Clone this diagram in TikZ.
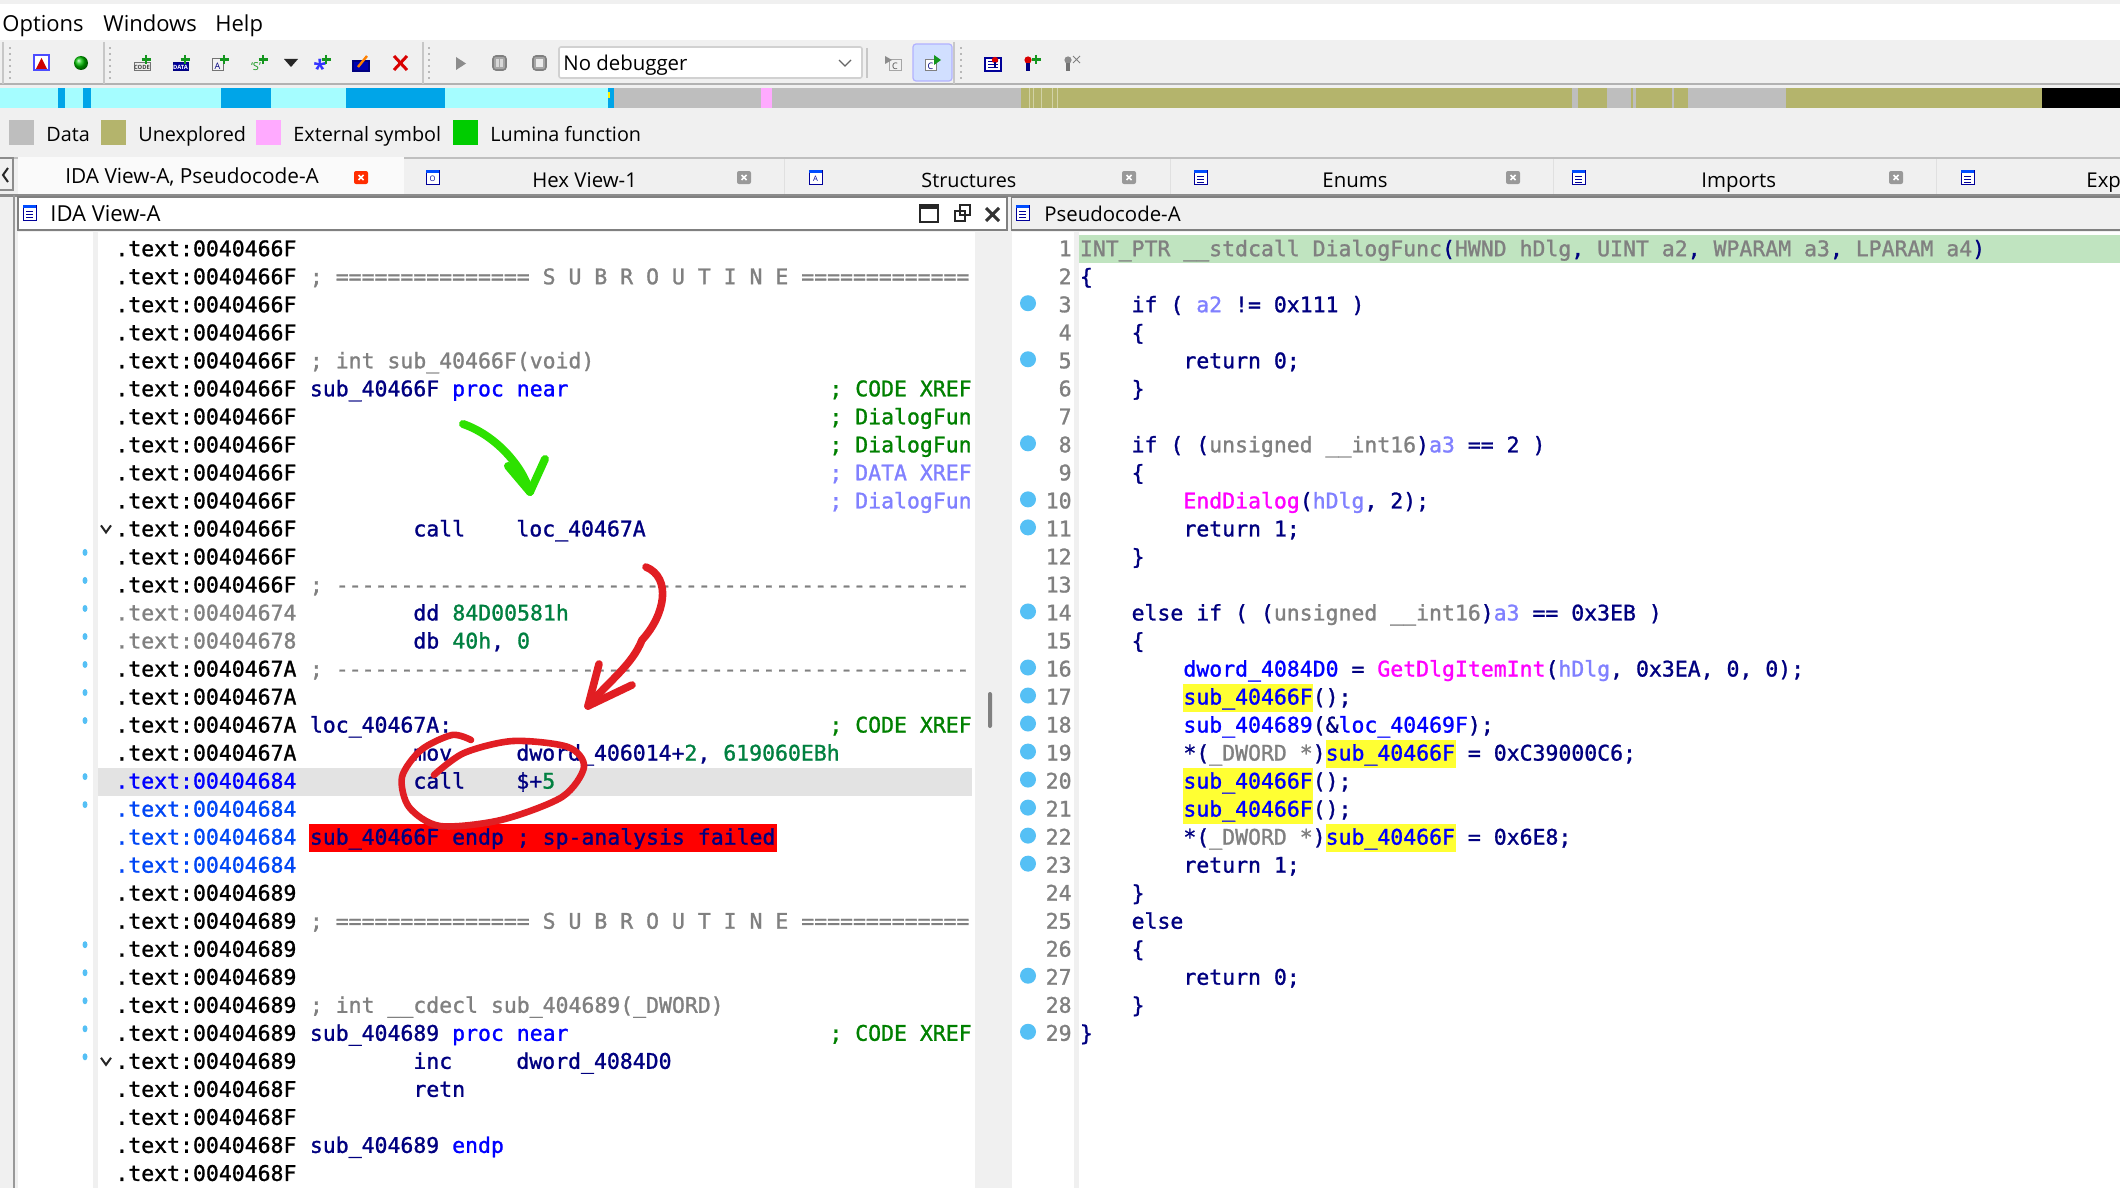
\documentclass[tikz,border=0pt]{standalone}
\usepackage{fontspec}
\usepackage{tikz}
\setmainfont{Open Sans}
\newfontfamily\codefont{DejaVu Sans Mono}[FakeBold=1.2]
\definecolor{idanavy}{RGB}{0, 0, 128}
\definecolor{idablue}{RGB}{0, 0, 255}
\definecolor{idagray}{RGB}{128, 128, 128}
\definecolor{idagreen}{RGB}{0, 128, 64}
\definecolor{idapink}{RGB}{255, 0, 255}
\definecolor{xrefgreen}{RGB}{0, 128, 0}
\definecolor{idalilac}{RGB}{128, 128, 255}
\definecolor{addrblue}{RGB}{0, 70, 245}
\definecolor{panel}{RGB}{240, 240, 240}
\definecolor{codecyan}{RGB}{165, 253, 255}
\definecolor{codeblue}{RGB}{0, 165, 232}
\definecolor{navgray}{RGB}{190, 190, 190}
\definecolor{navolive}{RGB}{180, 180, 108}
\definecolor{navpink}{RGB}{255, 170, 255}
\definecolor{dotblue}{RGB}{85, 192, 245}
\definecolor{plusgreen}{RGB}{20, 150, 30}
\definecolor{headgreen}{RGB}{192, 228, 192}
\definecolor{markyellow}{RGB}{255, 255, 51}
\definecolor{penred}{RGB}{225, 30, 35}
\definecolor{pengreen}{RGB}{45, 225, 0}
\tikzset{
  uilabel/.style={anchor=base west, inner sep=0pt, font=\fontsize{10.2}{13}\selectfont},
  menulabel/.style={anchor=base west, inner sep=0pt, font=\fontsize{11}{13}\selectfont},
  legendlabel/.style={anchor=base west, inner sep=0pt, font=\fontsize{9.9}{13}\selectfont},
  codetext/.style={anchor=base west, inner sep=0pt, text=idanavy, font=\codefont\fontsize{10.74}{12}\selectfont},
  numtext/.style={anchor=base east, inner sep=0pt, text=idagray, font=\codefont\fontsize{10.74}{12}\selectfont},
  icontext/.style={inner sep=0pt, font=\fontsize{2.9}{3}\selectfont\bfseries},
  penred/.style={draw=penred, line width=3.8pt, line cap=round, line join=round},
  pengreen/.style={draw=pengreen, line width=4pt, line cap=round, line join=round},
  divider/.style={draw=black!22, line width=1pt},
  grip/.style={draw=black!28, line width=1pt, dash pattern=on 1pt off 2pt},
  chevron/.style={draw=black!85, line width=1pt},
}
\begin{document}
\begin{tikzpicture}[x=0.5pt, y=-0.5pt, declare function={rowy(\n)=256.2+28.02*\n;}]
  \useasboundingbox (0,0) rectangle (2120,1188);
  \fill[panel] (0,0) rectangle (2120,1188);
  \fill[white] (0,4) rectangle (2120,40);
  \node[menulabel] (menuoptions) at (2,32) {Options};
  \node[menulabel] (menuwindows) at (103,32) {Windows};
  \node[menulabel] (menuhelp) at (215,32) {Help};
  % toolbar
  \draw[black!30, line width=1pt] (0,84.5) -- (2120,84.5);
  \foreach \ix in {3,104,423,954} \draw[divider] (\ix,42) -- (\ix,84);
  \foreach \ix in {10,110,429,961} \draw[grip] (\ix,47) -- (\ix,80);
  \filldraw[draw=blue!70, fill=white, line width=0.6pt] (34,55) rectangle (49,70);
  \fill[red!80!black] (41.5,58) -- (47,69) -- (36,69) -- cycle;
  \shade[ball color=green!75!black] (81,63) circle (7);
  \filldraw[draw=black!55, fill=black!8, line width=0.5pt] (134,63) rectangle (150,71);
  \node[icontext, text=black!75] (iconcode) at (142,67) {CODE};
  \filldraw[draw=blue!50!black, fill=blue!60!black, line width=0.5pt] (173,63) rectangle (188,71);
  \node[icontext, text=white] (icondata) at (180.5,67) {DATA};
  \filldraw[draw=black!55, fill=black!5, line width=0.5pt] (212,59) rectangle (223,71);
  \node[icontext, text=idanavy, font=\fontsize{4.5}{5}\selectfont] (iconascii) at (217.5,66) {A};
  \node[icontext, text=plusgreen, font=\fontsize{5.5}{6}\selectfont] (iconstr) at (256,67) {`S'};
  \fill[black!85] (284,59) -- (298,59) -- (291,67) -- cycle;
  \node[icontext, text=blue!80, font=\bfseries\fontsize{12}{12}\selectfont] (iconstar) at (320,68) {*};
  \foreach \ix in {146,185,224,263,326,1036} {
    \draw[plusgreen, line width=1.3pt] (\ix-4.5,59.5) -- (\ix+4.5,59.5) (\ix,55) -- (\ix,64);
  }
  \filldraw[draw=blue!50!black, fill=blue!70!black, line width=0.6pt] (353,61) rectangle (369,71);
  \draw[orange, line width=1.2pt] (358,67) -- (367,56);
  \draw[red!85!black, line width=1.5pt] (394,56) -- (407,70) (407,56) -- (394,70);
  \fill[black!45] (456,57) -- (466,63.5) -- (456,70) -- cycle;
  \filldraw[draw=black!50, fill=black!35, rounded corners=1.5pt, line width=0.8pt] (493,56) rectangle (506,70);
  \draw[white!85!black, line width=1.2pt] (497.5,59) -- (497.5,67) (501.5,59) -- (501.5,67);
  \filldraw[draw=black!50, fill=black!35, rounded corners=1.5pt, line width=0.8pt] (533,56) rectangle (546,70);
  \fill[black!8] (536,59) rectangle (543,67);
  \filldraw[draw=black!18, fill=white, rounded corners=1pt, line width=0.8pt] (559,47) rectangle (862,78);
  \node[uilabel] (comboname) at (563,71) {No debugger};
  \draw[black!60, line width=0.6pt] (839,60) -- (845,66) -- (851,60);
  \draw[divider] (867,48) -- (867,78);
  \filldraw[draw=black!35, fill=black!6, line width=0.5pt] (889,60) rectangle (901,71);
  \node[icontext, text=black!70, font=\fontsize{4.5}{5}\selectfont] (icongrayc) at (895,66) {C};
  \fill[black!45] (885,56) -- (892,60) -- (885,64) -- cycle;
  \filldraw[draw=blue!30, fill=blue!70!cyan!18, rounded corners=1.5pt, line width=0.6pt] (913,44) rectangle (952,81);
  \filldraw[draw=black!50, fill=white, line width=0.5pt] (925,60) rectangle (936,71);
  \node[icontext, text=idanavy, font=\fontsize{4.5}{5}\selectfont] (iconbluec) at (930.5,66) {C};
  \fill[plusgreen] (934,55) -- (941,60) -- (934,65) -- cycle;
  \filldraw[draw=blue!60!black, fill=white, line width=0.6pt] (985,58) rectangle (1001,71);
  \draw[blue!60!black, line width=0.5pt] (988,62) -- (998,62) (988,65) -- (998,65) (988,68) -- (998,68);
  \fill[red!85!black] (995,60) circle (3.2);
  \draw[blue!50!black, line width=1.2pt] (995,62) -- (995,68);
  \fill[red!85!black] (1028,60) circle (3.6);
  \draw[idanavy, line width=2pt] (1028,63) -- (1028,71);
  \fill[black!45] (1068,60) circle (3.6);
  \draw[black!55, line width=2pt] (1068,63) -- (1068,71);
  \draw[black!50, line width=0.5pt] (1073,56) -- (1080,63) (1080,56) -- (1073,63);
  % navigation bar
  \fill[codecyan] (0,88) rectangle (612,108);
  \foreach \xa/\xb in {58/65, 83/91, 221/271, 346/445, 608/614} \fill[codeblue] (\xa,88) rectangle (\xb,108);
  \fill[yellow] (608,92) rectangle (610,98);
  \fill[navgray] (614,88) rectangle (1021,108);
  \fill[navpink] (761,88) rectangle (772,108);
  \fill[navolive] (1021,88) rectangle (2042,108);
  \foreach \xa/\xb in {1029/1030, 1033/1034, 1041/1042, 1052/1053, 1057/1058}
    \fill[navolive!60!white] (\xa,88) rectangle (\xb,108);
  \foreach \xa/\xb in {1572/1578, 1607/1611, 1611/1631, 1633/1636, 1672/1674, 1688/1786}
    \fill[navgray] (\xa,88) rectangle (\xb,108);
  \fill[black] (2042,88) rectangle (2120,108);
  % legend
  \fill[navgray] (9,120) rectangle (34,145);
  \node[legendlabel] (legdata) at (46,141) {Data};
  \fill[navolive] (101,120) rectangle (126,145);
  \node[legendlabel] (legunexplored) at (138,141) {Unexplored};
  \fill[navpink] (256,120) rectangle (281,145);
  \node[legendlabel] (legexternal) at (293,141) {External symbol};
  \fill[green!80!black] (453,120) rectangle (478,145);
  \node[legendlabel] (leglumina) at (490,141) {Lumina function};
  % tabs
  \draw[black!25, line width=0.5pt] (0,158) -- (2120,158);
  \fill[black!2] (18,157) rectangle (404,195);
  \draw[black!45, line width=0.7pt] (0,158) -- (13,158) -- (13,190) -- (0,190);
  \draw[black!85, line width=1pt] (8,168) -- (3,175) -- (8,182);
  \foreach \ix in {784,1170,1553,1936} \draw[black!12, line width=0.5pt] (\ix,159) -- (\ix,194);
  \node[uilabel, font=\fontsize{10.4}{13}\selectfont] (tabida) at (65,184) {IDA View-A, Pseudocode-A};
  \node[uilabel] (tabhex) at (532,187) {Hex View-1};
  \node[legendlabel] (tabstruct) at (921,187) {Structures};
  \node[uilabel] (tabenums) at (1322,187) {Enums};
  \node[uilabel] (tabimports) at (1701,187) {Imports};
  \node[uilabel] (tabexports) at (2086,187) {Exp};
  \foreach \ix in {426,809,1194,1572,1961} {
    \filldraw[draw=blue!60!black, fill=white, line width=0.5pt] (\ix,170) rectangle (\ix+13,184);
    \fill[blue!70!cyan] (\ix,170) rectangle (\ix+13,173);
  }
  \node[icontext, text=blue!60!black, font=\fontsize{3.8}{4}\selectfont] (iconhex) at (432.5,178.5) {O};
  \node[icontext, text=blue!60!black, font=\fontsize{3.8}{4}\selectfont] (iconstruct) at (815.5,178.5) {A};
  \foreach \ix in {1194,1572,1961} \draw[blue!60!black, line width=0.5pt] (\ix+3,176) -- (\ix+10,176) (\ix+3,179) -- (\ix+10,179) (\ix+3,182) -- (\ix+10,182);
  \foreach \ix/\tone in {354/red!65!orange, 737/black!40, 1122/black!40, 1506/black!40, 1889/black!40} {
    \fill[\tone, rounded corners=1pt] (\ix,171) rectangle (\ix+14,184);
    \draw[white, line width=0.8pt] (\ix+4.5,175) -- (\ix+9.5,180) (\ix+9.5,175) -- (\ix+4.5,180);
  }
  \draw[black!45, line width=1.2pt] (0,195.5) -- (2120,195.5);
  % pane titles
  \filldraw[draw=black!50, fill=white, line width=0.6pt] (18,197) rectangle (1007,230);
  \draw[black!50, line width=0.6pt] (2120,197) -- (1011.5,197) -- (1011.5,230) -- (2120,230);
  \foreach \ix in {23,1016} {
    \filldraw[draw=blue!60!black, fill=white, line width=0.5pt] (\ix,205) rectangle (\ix+13,220);
    \fill[blue!70!cyan] (\ix,205) rectangle (\ix+13,208);
    \draw[blue!60!black, line width=0.4pt] (\ix+3,211) -- (\ix+10,211) (\ix+3,214) -- (\ix+10,214) (\ix+3,217) -- (\ix+10,217);
  }
  \node[menulabel] (titleida) at (50,221) {IDA View-A};
  \node[uilabel] (titlepseudo) at (1044,221) {Pseudocode-A};
  \draw[black!85, line width=1pt] (920,205) rectangle (938,222);
  \fill[black!85] (920,205) rectangle (938,209);
  \draw[black!85, line width=1pt] (960,205) rectangle (970,215) (955,211) rectangle (965,221);
  \draw[black!80, line width=1.5pt] (986,208) -- (999,221) (999,208) -- (986,221);
  % code panes
  \fill[white] (18,232) rectangle (93,1188);
  \fill[white] (98,232) rectangle (975,1188);
  \fill[white] (1012,232) rectangle (1074,1188);
  \fill[white] (1079,232) rectangle (2120,1188);
  \draw[black!40, line width=0.6pt] (14,195) -- (14,1188);
  \fill[idagray, rounded corners=1pt] (988,692) rectangle (992,728);
  \fill[black!11] (98,{rowy(19)-21}) rectangle (972,{rowy(19)+7});
  \fill[red] (309,{rowy(21)-21}) rectangle (777,{rowy(21)+7});
  \fill[headgreen] (1079,235) rectangle (2120,263);
  \foreach \ly/\xa in {16/1183, 18/1326, 19/1183, 20/1183, 21/1326}
    \fill[markyellow] (\xa,{rowy(\ly)-21}) rectangle (\xa+130,{rowy(\ly)+7});
  % left listing
  \foreach \first/\last/\addr/\tone in {0/12/0040466F/black, 13/13/00404674/idagray, 14/14/00404678/idagray,
      15/18/0040467A/black, 19/19/00404684/idablue, 20/22/00404684/addrblue, 23/29/00404689/black, 30/33/0040468F/black} {
    \foreach \row in {\first,...,\last}
      \node[codetext, text=\tone] (addr\row) at (115,{rowy(\row)}) {.text:\addr};
  }
  \foreach \row in {11,...,17,19,20,25,26,27,28,29}
    \fill[dotblue] (85,{rowy(\row)-12}) ellipse (2.5 and 3.5);
  \foreach \row in {10,29}
    \draw[chevron] (101,{rowy(\row)-11}) -- (106,{rowy(\row)-4}) -- (111,{rowy(\row)-11});
  \node[codetext, text=idagray] (rule1) at (309.5,{rowy(1)}) {; =============== S U B R O U T I N E =============};
  \node[codetext, text=idagray] (proto1) at (309.5,{rowy(4)}) {; int sub\_40466F(void)};
  \node[codetext] (proc1) at (309.5,{rowy(5)}) {sub\_40466F \textcolor{idablue}{proc near}};
  \node[codetext, text=xrefgreen] (xref1) at (829,{rowy(5)}) {; CODE XREF};
  \node[codetext, text=xrefgreen] (xref2) at (829,{rowy(6)}) {; DialogFun};
  \node[codetext, text=xrefgreen] (xref3) at (829,{rowy(7)}) {; DialogFun};
  \node[codetext, text=idalilac] (xref4) at (829,{rowy(8)}) {; DATA XREF};
  \node[codetext, text=idalilac] (xref5) at (829,{rowy(9)}) {; DialogFun};
  \node[codetext] (op10) at (413,{rowy(10)}) {call};
  \node[codetext] (arg10) at (516,{rowy(10)}) {loc\_40467A};
  \node[codetext, text=idagray] (rule2) at (309.5,{rowy(12)}) {; -------------------------------------------------};
  \node[codetext] (op13) at (413,{rowy(13)}) {dd};
  \node[codetext, text=idagreen] (arg13) at (452,{rowy(13)}) {84D00581h};
  \node[codetext] (op14) at (413,{rowy(14)}) {db};
  \node[codetext] (arg14) at (452,{rowy(14)}) {\textcolor{idagreen}{40h}, \textcolor{idagreen}{0}};
  \node[codetext, text=idagray] (rule3) at (309.5,{rowy(15)}) {; -------------------------------------------------};
  \node[codetext] (label17) at (309.5,{rowy(17)}) {loc\_40467A:};
  \node[codetext, text=xrefgreen] (xref6) at (829,{rowy(17)}) {; CODE XREF};
  \node[codetext] (op18) at (413,{rowy(18)}) {mov};
  \node[codetext] (arg18) at (516,{rowy(18)}) {dword\_406014+\textcolor{idagreen}{2}, \textcolor{idagreen}{619060EBh}};
  \node[codetext] (op19) at (413,{rowy(19)}) {call};
  \node[codetext] (arg19) at (516,{rowy(19)}) {\$+\textcolor{idagreen}{5}};
  \node[codetext] (endp1) at (309.5,{rowy(21)}) {sub\_40466F endp ; sp-analysis failed};
  \node[codetext, text=idagray] (rule4) at (309.5,{rowy(24)}) {; =============== S U B R O U T I N E =============};
  \node[codetext, text=idagray] (proto2) at (309.5,{rowy(27)}) {; int \_\_cdecl sub\_404689(\_DWORD)};
  \node[codetext] (proc2) at (309.5,{rowy(28)}) {sub\_404689 \textcolor{idablue}{proc near}};
  \node[codetext, text=xrefgreen] (xref7) at (829,{rowy(28)}) {; CODE XREF};
  \node[codetext] (op29) at (413,{rowy(29)}) {inc};
  \node[codetext] (arg29) at (516,{rowy(29)}) {dword\_4084D0};
  \node[codetext] (op30) at (413,{rowy(30)}) {retn};
  \node[codetext] (endp2) at (309.5,{rowy(32)}) {sub\_404689 \textcolor{idablue}{endp}};
  % right listing
  \foreach \n in {1,...,29}
    \node[numtext] (num\n) at (1072,{rowy(\n-1)}) {\n};
  \foreach \n in {3,5,8,10,11,14,16,17,18,19,20,21,22,23,27,29}
    \fill[dotblue] (1028,{rowy(\n-1)-9}) circle (8);
  \node[codetext, text=idagray] (line1) at (1079.5,{rowy(0)}) {INT\_PTR \_\_stdcall DialogFunc\textcolor{idanavy}{(}HWND hDlg\textcolor{idanavy}{,} UINT a2\textcolor{idanavy}{,} WPARAM a3\textcolor{idanavy}{,} LPARAM a4\textcolor{idanavy}{)}};
  \node[codetext] (line2) at (1079.5,{rowy(1)}) {\{};
  \node[codetext] (line3) at (1131.2,{rowy(2)}) {if ( \textcolor{idalilac}{a2} != 0x111 )};
  \node[codetext] (line4) at (1131.2,{rowy(3)}) {\{};
  \node[codetext] (line5) at (1183,{rowy(4)}) {return 0;};
  \node[codetext] (line6) at (1131.2,{rowy(5)}) {\}};
  \node[codetext] (line8) at (1131.2,{rowy(7)}) {if ( (\textcolor{idagray}{unsigned \_\_int16})\textcolor{idalilac}{a3} == 2 )};
  \node[codetext] (line9) at (1131.2,{rowy(8)}) {\{};
  \node[codetext] (line10) at (1183,{rowy(9)}) {\textcolor{idapink}{EndDialog}(\textcolor{idalilac}{hDlg}, 2);};
  \node[codetext] (line11) at (1183,{rowy(10)}) {return 1;};
  \node[codetext] (line12) at (1131.2,{rowy(11)}) {\}};
  \node[codetext] (line14) at (1131.2,{rowy(13)}) {else if ( (\textcolor{idagray}{unsigned \_\_int16})\textcolor{idalilac}{a3} == 0x3EB )};
  \node[codetext] (line15) at (1131.2,{rowy(14)}) {\{};
  \node[codetext] (line16) at (1183,{rowy(15)}) {\textcolor{idablue}{dword\_4084D0} = \textcolor{idapink}{GetDlgItemInt}(\textcolor{idalilac}{hDlg}, 0x3EA, 0, 0);};
  \node[codetext] (line17) at (1183,{rowy(16)}) {\textcolor{idablue}{sub\_40466F}();};
  \node[codetext] (line18) at (1183,{rowy(17)}) {\textcolor{idablue}{sub\_404689}(\&\textcolor{idablue}{loc\_40469F});};
  \node[codetext] (line19) at (1183,{rowy(18)}) {*(\textcolor{idagray}{\_DWORD *})\textcolor{idablue}{sub\_40466F} = 0xC39000C6;};
  \node[codetext] (line20) at (1183,{rowy(19)}) {\textcolor{idablue}{sub\_40466F}();};
  \node[codetext] (line21) at (1183,{rowy(20)}) {\textcolor{idablue}{sub\_40466F}();};
  \node[codetext] (line22) at (1183,{rowy(21)}) {*(\textcolor{idagray}{\_DWORD *})\textcolor{idablue}{sub\_40466F} = 0x6E8;};
  \node[codetext] (line23) at (1183,{rowy(22)}) {return 1;};
  \node[codetext] (line24) at (1131.2,{rowy(23)}) {\}};
  \node[codetext] (line25) at (1131.2,{rowy(24)}) {else};
  \node[codetext] (line26) at (1131.2,{rowy(25)}) {\{};
  \node[codetext] (line27) at (1183,{rowy(26)}) {return 0;};
  \node[codetext] (line28) at (1131.2,{rowy(27)}) {\}};
  \node[codetext] (line29) at (1079.5,{rowy(28)}) {\}};
  % pen marks
  \draw[pengreen] (463,424) .. controls (495,435) and (522,465) .. (530,492);
  \draw[pengreen] (508,466) -- (530,492) -- (545,459);
  \draw[penred] (646,567) .. controls (672,578) and (665,615) .. (642,640) .. controls (632,665) and (610,680) .. (588,706);
  \draw[penred] (599,664) -- (588,706) -- (632,685);
  \draw[penred, line width=3.3pt] plot[smooth] coordinates {(434,775) (464,753) (513,741) (568,747) (584,767) (562,797) (501,820) (440,826) (409,807) (402,777) (421,750) (452,735) (471,740)};
\end{tikzpicture}
\end{document}
